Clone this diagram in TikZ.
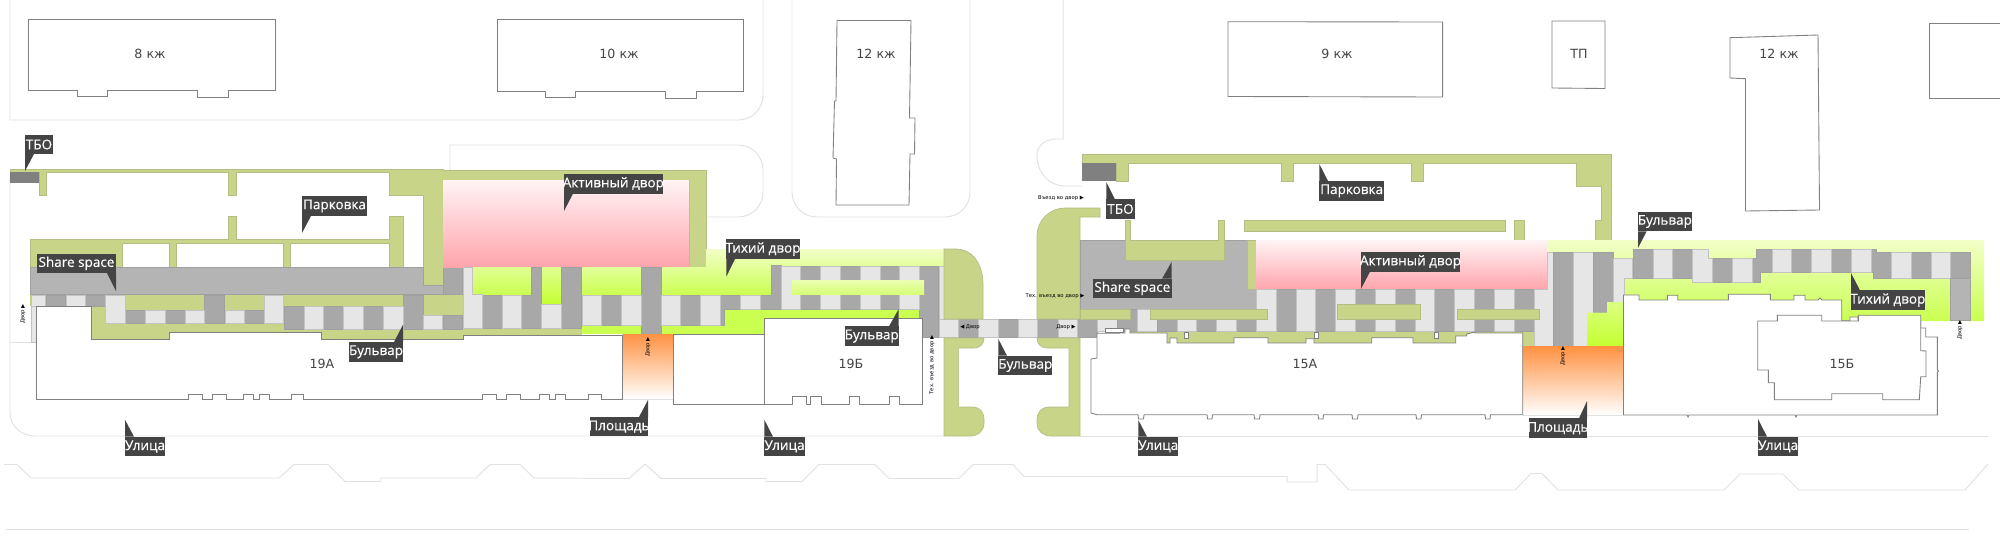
\documentclass[tikz,border=0pt]{standalone}
\usepackage{fontspec}
\setmainfont{DejaVu Sans}
\newfontfamily\labfont{Open Sans}[FakeBold=0.3]
\usetikzlibrary{calc}
\definecolor{grn}{HTML}{C8D488}
\definecolor{grnedge}{HTML}{B4BE84}
\definecolor{dkc}{HTML}{A8A8A8}
\definecolor{ltc}{HTML}{E6E6E6}
\definecolor{cedge}{HTML}{A0A0A0}
\definecolor{band}{HTML}{B4B4B4}
\definecolor{tagc}{HTML}{444444}
\definecolor{roadc}{HTML}{E2E2E2}
\definecolor{bedge}{HTML}{808080}
\definecolor{limeA}{HTML}{F2FFC8}
\definecolor{limeB}{HTML}{CAFF50}
\definecolor{limeC}{HTML}{C4FF30}
\definecolor{pinkB}{HTML}{FFA4AC}
\definecolor{pinkA}{HTML}{FFF4F5}
\definecolor{orA}{HTML}{FF9242}
\tikzset{
  greenzone/.style={fill=grn,draw=grnedge,line width=.4pt},
  darkcell/.style={fill=dkc,draw=cedge,line width=.3pt},
  lightcell/.style={fill=ltc,draw=ltc!85!black,line width=.3pt},
  bandzone/.style={fill=band,draw=cedge,line width=.3pt},
  bldg/.style={fill=white,draw=bedge,line width=.5pt},
  road/.style={draw=roadc,line width=.55pt},
  tagfill/.style={fill=tagc},
  bigname/.style={text=tagc,font=\fontsize{7.2}{9}\selectfont,inner sep=0pt},
  taglabel/.style={text=white,font=\labfont\fontsize{7.7}{9}\selectfont,inner sep=0pt},
  tiny/.style={text=black,font=\fontsize{3}{4}\selectfont,inner sep=0pt},
}
\newcommand\calloutbox[7]{%
  \fill[tagfill] (#2,#3) rectangle (#4,#5);
  \fill[tagfill] #6 -- cycle;
  \node[taglabel] (#1) at ($(#2,#3)!.5!(#4,#5)$) {#7};
}
\begin{document}
\begin{tikzpicture}[x=0.02cm,y=-0.02cm]
\useasboundingbox (0,0) rectangle (2000,541);
\fill[white] (0,0) rectangle (2000,541);

% ---- road lines
\draw[road] (10,0) -- (10,120) -- (738,120) .. controls (752,120) and (763,109) .. (763,95) -- (763,0);
\draw[road] (450,170) -- (450,145) -- (738,145) .. controls (752,145) and (763,156) .. (763,170) -- (763,192) .. controls (763,206) and (752,217) .. (738,217) -- (706,217);
\draw[road] (792,0) -- (792,192) .. controls (792,206) and (803,217) .. (817,217) -- (945,217) .. controls (959,217) and (970,206) .. (970,192) -- (970,0);
\draw[road] (1063,0) -- (1063,139) -- (1056,139) .. controls (1044,139) and (1037,147) .. (1037,155) .. controls (1037,172) and (1048,186) .. (1066,186) -- (1082,186);
\draw[road] (10,172) -- (10,412) .. controls (10,426) and (21,436) .. (35,436) -- (944,436);
\draw[road] (10,342.5) -- (37,342.5);
\draw[road] (1080,436) -- (1988,436);
\draw[road] (4,464.5) -- (17,464.5) -- (31,478) -- (279,478) -- (294,464.5) -- (328,464.5) -- (345,481.5) -- (381,481.5) -- (381,478) -- (476,478) -- (490,464.5) -- (520,464.5) -- (534,478) -- (629,478.5) -- (645,464) -- (661,478.5) -- (766,478.5) -- (766,481.5) -- (802,481.5) -- (819,464.5) -- (875,464.5) -- (889,478.5) -- (959,478.5) -- (973,464.5) -- (1013,464.5) -- (1024,476.5) -- (1287,476.5) -- (1287,482) -- (1317,482) -- (1317,464.5) -- (1325,464.5) -- (1349,490) -- (1515,490) -- (1531,473.5) -- (1542,473.5) -- (1558,490) -- (1724,490) -- (1740,474) -- (1783,474) -- (1799,490) -- (1965,490) -- (1988,464);
\draw[road] (6,529) -- (1969,529);

% ---- left block: green
\draw[greenzone] (10,169) -- (443,169) -- (443,170) -- (706,170) -- (706,267) -- (689,267) -- (689,180) -- (443,180) -- (443,285) -- (423,285) -- (423,195) -- (389,195) -- (389,172) -- (236,172) -- (236,195) -- (228,195) -- (228,172) -- (46,172) -- (46,195) -- (39,195) -- (39,172) -- (10,172) -- cycle;
\draw[greenzone] (30,239) -- (228,239) -- (228,216) -- (236,216) -- (236,239) -- (389,239) -- (389,216) -- (403,216) -- (403,267) -- (389,267) -- (389,243.5) -- (290,243.5) -- (290,267) -- (283,267) -- (283,243.5) -- (176,243.5) -- (176,267) -- (169,267) -- (169,243.5) -- (122,243.5) -- (122,267) -- (30,267) -- cycle;
\fill[fill=grn] (91,294) rectangle (582,339);
\fill[fill=grn] (30,294) rectangle (91,306);
% TBO left
\fill[fill=bedge] (10,172) rectangle (39,183);
% share space band
\draw[bandzone] (30,267) -- (423,267) -- (423,285) -- (443,285) -- (443,294) -- (30,294) -- cycle;
\draw[darkcell] (443,267) rectangle (462,294);
% active court
\shade[top color=pinkA,bottom color=pinkB] (443,180) rectangle (689,267);

% ---- lime left
\shade[top color=limeA,bottom color=limeB] (582,267) -- (706,267) -- (706,249) -- (944,249) -- (944,295) -- (582,295) -- cycle;
\fill[limeB] (582,295) rectangle (944,334);
\shade[top color=limeA!55!limeB,bottom color=limeB] (472.7,267) rectangle (531,295);
\shade[top color=limeA!55!limeB,bottom color=limeC] (541.7,267) rectangle (561,304);

% ---- cells left
\foreach \a/\b/\c/\d in {46/295/65.5/306, 85/295/105/306, 125/310/145/323, 165/310/185/323, 204/295/224.5/323, 244/310/264/323, 284/306/304/329, 323/306/343/329, 363/306/383/329, 403/295/423/329, 443/315/462/329, 482/295/502/328, 561/267/581.7/328, 601/295/621/325, 641/267/661/334, 680/295/700/325, 800/266/820/309, 840/266/860/309, 880/266/899/309}
  \draw[darkcell] (\a,\b) rectangle (\c,\d);
\draw[darkcell] (720,295) -- (740,295) -- (740,309) -- (724,309) -- (724,325) -- (720,325) -- cycle;
\draw[darkcell] (771.5,265.5) -- (781,265.5) -- (781,309) -- (760,309) -- (760,295) -- (771.5,295) -- cycle;
\draw[darkcell] (531,267) -- (541.7,267) -- (541.7,328) -- (521.7,328) -- (521.7,295) -- (531,295) -- cycle;
\draw[darkcell] (919,266) rectangle (938.7,337);
\foreach \a/\b/\c/\d in {31/295/45.5/306, 66/295/85/306, 105/295/125/323, 145/310/165/323, 185/310/204/323, 225/310/244/323, 264/295/283.5/323, 304/306/323/329, 343/306/363/329, 383/306/403/329, 423/315/442.5/329, 502/295/521.7/328, 541.7/304/561/328, 582/295/601/325, 621/295/641/325, 661/295/680/325, 700/295/720/325, 740/295/760/309, 781/266/800/309, 820/266/840/309, 860/266/880/309, 899/266/919/309, 939/266/944/319}
  \draw[lightcell] (\a,\b) rectangle (\c,\d);
\draw[lightcell] (31,306) rectangle (36.6,342);
\draw[lightcell] (463,267) -- (472.7,267) -- (472.7,294) -- (482,294) -- (482,328) -- (463,328) -- cycle;
% lime bar
\shade[top color=limeA!80!limeB,bottom color=limeA!30!limeB] (792,280) rectangle (924,294.5);

% ---- crossing and green pockets
\foreach \a/\c in {958/978,998/1018,1037/1058,1077/1097}
  \draw[darkcell] (\a,319) rectangle (\c,337);
\foreach \a/\c in {939/958,978/998,1018/1037,1058/1077}
  \draw[lightcell] (\a,319) rectangle (\c,337);
\draw[greenzone] (944,249) -- (956,249) .. controls (971,249) and (983,262) .. (983,285) -- (983,319) -- (944,319) -- cycle;
\draw[greenzone] (944,338) -- (984,338) .. controls (984,344) and (980,348) .. (974,348) -- (958.6,348) -- (958.6,407) -- (972,407) .. controls (980,407) and (984,412) .. (984,420) -- (984,423) .. controls (984,431) and (978,436) .. (970,436) -- (944,436) -- cycle;
\draw[greenzone] (1080,338) -- (1037,338) .. controls (1037,344) and (1041,348) .. (1047,348) -- (1069,348) -- (1069,407) -- (1049,407) .. controls (1042,407) and (1037,412) .. (1037,420) -- (1037,423) .. controls (1037,431) and (1043,436) .. (1051,436) -- (1080,436) -- cycle;
\draw[greenzone] (1037,319) -- (1037,236) .. controls (1037,220) and (1050,208) .. (1065,208) -- (1100,208) -- (1100,217) -- (1080,217) -- (1080,319) -- cycle;

% ---- right block: green, grey, pink
\draw[greenzone] (1082,154) -- (1611,154) -- (1611,240) -- (1595,240) -- (1595,220) -- (1601,220) -- (1601,186) -- (1576,186) -- (1576,163) -- (1423,163) -- (1423,181) -- (1411,181) -- (1411,163) -- (1293,163) -- (1293,181) -- (1281,181) -- (1281,163) -- (1128,163) -- (1128,181) -- (1116,181) -- (1116,163) -- (1082,163) -- cycle;
\fill[fill=bedge] (1082,163) rectangle (1116,181);
\draw[bandzone] (1080,240) rectangle (1256,309.3);
\draw[greenzone] (1125,220.7) -- (1130.7,220.7) -- (1130.7,240) -- (1218.3,240) -- (1218.3,220.7) -- (1224,220.7) -- (1224,260) -- (1125,260) -- cycle;
\draw[greenzone] (1247,240) rectangle (1256,289.7);
\draw[greenzone] (1244,220.7) rectangle (1505,231.7);
\draw[greenzone] (1514.3,220.7) rectangle (1524.7,240);
\shade[top color=pinkA,bottom color=pinkB] (1256,240) rectangle (1547,289.7);

% ---- lime right
\shade[top color=limeA,bottom color=limeB] (1547,240) -- (1984,240) -- (1984,321) -- (1613,321) -- (1613,252) -- (1547,252) -- cycle;
\fill[grn] (1130,331) rectangle (1539,346.7);

% ---- cells right
\draw[lightcell] (1097,319) rectangle (1117,331);
\draw[darkcell] (1117,319) -- (1130.6,319) -- (1130.6,309.3) -- (1137,309.3) -- (1137,331) -- (1117,331) -- cycle;
\draw[lightcell] (1137,309.3) -- (1150,309.3) -- (1150,319) -- (1157,319) -- (1157,331) -- (1137,331) -- cycle;
\foreach \a/\c in {1157/1177,1196/1216,1236/1256}
  \draw[darkcell] (\a,319) rectangle (\c,331);
\foreach \a/\c in {1177/1196,1216/1236}
  \draw[lightcell] (\a,319) rectangle (\c,331);
\foreach \a/\c in {1276/1296,1315/1335,1355/1375,1395/1415,1434/1454,1474/1494,1514/1534}
  \draw[darkcell] (\a,289.7) rectangle (\c,331);
\foreach \a/\c in {1256/1276,1296/1315,1335/1355,1375/1395,1415/1434,1454/1474,1494/1514}
  \draw[lightcell] (\a,289.7) rectangle (\c,331);
\draw[lightcell] (1534,289.7) -- (1547,289.7) -- (1547,252) -- (1553,252) -- (1553,346.7) -- (1534,346.7) -- cycle;
\draw[darkcell] (1553,252) rectangle (1573,346.7);
\draw[lightcell] (1573,252) rectangle (1593,346.7);
\draw[darkcell] (1593,252) rectangle (1613,312);
\draw[lightcell] (1613,258) -- (1632,258) -- (1632,278) -- (1624,278) -- (1624,302) -- (1613,302) -- cycle;
\shade[top color=limeA!40!limeB,bottom color=limeC] (1587.7,312.7) -- (1607,312.7) -- (1607,302) -- (1624,302) -- (1624,346.7) -- (1587.7,346.7) -- cycle;
\foreach \a/\b/\c/\d in {1633/249.3/1653/278, 1672.7/249.3/1692/278, 1712/258/1732/282, 1791.7/249.3/1811.7/272, 1831.7/249.3/1851/272, 1911/252/1931/278, 1950/252/1970/278}
  \draw[darkcell] (\a,\b) rectangle (\c,\d);
\draw[darkcell] (1752,258) -- (1756.7,258) -- (1756.7,249.3) -- (1772,249.3) -- (1772,272) -- (1760,272) -- (1760,282) -- (1752,282) -- cycle;
\draw[darkcell] (1871,249.3) -- (1876.5,249.3) -- (1876.5,252) -- (1891,252) -- (1891,278) -- (1873,278) -- (1873,272) -- (1871,272) -- cycle;
\foreach \a/\b/\c/\d in {1653/249.3/1672.7/278, 1732/258/1752/282, 1772/249.3/1791.7/272, 1811.7/249.3/1831.7/272, 1851/249.3/1871/272, 1891/252/1911/278, 1931/252/1950/278}
  \draw[lightcell] (\a,\b) rectangle (\c,\d);
\draw[lightcell] (1692,249.3) -- (1708.7,249.3) -- (1708.7,258) -- (1712,258) -- (1712,282) -- (1692,282) -- cycle;
\draw[bandzone] (1950,278) rectangle (1970,320.7);
% green bars over cells
\draw[greenzone] (1080,309.3) rectangle (1130.6,319.3);
\draw[greenzone] (1150,309.3) rectangle (1267,319.3);
\draw[greenzone] (1337,304) rectangle (1420,319);
\draw[greenzone] (1457,309) rectangle (1539,319);

% ---- orange squares
\shade[top color=orA,bottom color=white] (622.5,334) rectangle (673,399);
\shade[top color=orA,bottom color=white] (1522.7,346.7) rectangle (1623.3,415);
\draw[road] (622.5,399) -- (673,399);
\draw[road] (1522.7,415) -- (1623.3,415);

% ---- buildings
\draw[bldg] (28,19) -- (275,19) -- (275,90) -- (228,90) -- (228,97) -- (197,97) -- (197,90) -- (107,90) -- (107,96) -- (77,96) -- (77,90) -- (28,90) -- cycle;
\draw[bldg] (497,19) -- (743,19) -- (743,91) -- (696,91) -- (696,98) -- (665,98) -- (665,91) -- (575,91) -- (575,97) -- (545,97) -- (545,91) -- (497,91) -- cycle;
\draw[bldg] (837,20.5) -- (911,20.5) -- (909.5,118) -- (915,118) -- (914.5,154) -- (910,154) -- (909,205) -- (836,205) -- (836.5,159) -- (833,158) -- (834.5,101) -- (836,101) -- cycle;
\draw[bldg] (1228,21.7) -- (1442.6,22) -- (1442.6,97) -- (1228,96.5) -- cycle;
\draw[bldg] (1552,21) -- (1605,21) -- (1605,88.5) -- (1552,88) -- cycle;
\draw[bldg] (1730,37.7) -- (1818,35) -- (1819.5,210) -- (1745.5,211) -- (1745.5,78.7) -- (1730,78) -- cycle;
\draw[bldg] (2000,23) -- (1929,23) -- (1929,98.7) -- (2000,98.7);

\draw[bldg] (36.6,306) -- (91,306) -- (91,339) -- (169,339) -- (169,332) -- (321,332) -- (321,339) -- (463,339) -- (463,335) -- (622.5,335) -- (622.5,399) -- (601,399) -- (601,394.5) -- (588,394.5) -- (588,399) -- (565,399) -- (565,394.5) -- (555,394.5) -- (555,399) -- (549,399) -- (549,394.5) -- (539,394.5) -- (539,399) -- (520,399) -- (520,394.5) -- (506,394.5) -- (506,399) -- (496,399) -- (496,394.5) -- (482,394.5) -- (482,399) -- (303,399) -- (303,394) -- (291,394) -- (291,399) -- (269,399) -- (269,394) -- (259,394) -- (259,399) -- (253,399) -- (253,394) -- (243,394) -- (243,399) -- (226,399) -- (226,394) -- (212,394) -- (212,399) -- (202,399) -- (202,394.5) -- (188,394.5) -- (188,399) -- (36.6,399) -- cycle;
\draw[bldg] (673,334) -- (764,334) -- (764,318) -- (922,318) -- (922,404) -- (899,404) -- (899,396) -- (889,396) -- (889,404) -- (859,404) -- (859,396) -- (849,396) -- (849,404) -- (821,404) -- (821,396) -- (810,396) -- (810,404) -- (806,404) -- (806,396) -- (792,396) -- (792,404) -- (673,404) -- cycle;
\draw[bedge,line width=.5pt] (764,318) -- (764,404);

\draw[bldg] (1097,333.3) -- (1097,358) -- (1091,359) -- (1091,413) -- (1097,414.7) -- (1138,414.7) -- (1138.5,419) -- (1143.5,419) -- (1144,414.7) -- (1207,414.7) -- (1207.5,419) -- (1212,419) -- (1212.5,414.7) -- (1254,414.7) -- (1254.5,419) -- (1259.5,419) -- (1260,414.7) -- (1318,414.7) -- (1318.5,419) -- (1323,419) -- (1323.5,414.7) -- (1352,414.7) -- (1352.5,419) -- (1357.5,419) -- (1358,414.7) -- (1416,414.7) -- (1416.5,419) -- (1421,419) -- (1421.5,414.7) -- (1485,414.7) -- (1485.5,419) -- (1490,419) -- (1490.5,414.7) -- (1522.7,414.7) -- (1522.7,333) -- (1475,333) -- (1475,332) -- (1466.7,334) -- (1466.7,336) -- (1455.7,336) -- (1455.7,343) -- (1413,343) -- (1413,337.7) -- (1371.7,337.7) -- (1371.7,343) -- (1314,343) -- (1314,338.7) -- (1306,338.7) -- (1306,343) -- (1268,343) -- (1268,337.7) -- (1234,337.7) -- (1234,343) -- (1177,343) -- (1177,338) -- (1170,338) -- (1170,343) -- (1167,343) -- (1167,333) -- (1130,333) -- (1130,329) -- (1125,329) -- (1125,333) -- cycle;
\draw[bldg,line width=.4pt] (1105.3,328.7) rectangle (1123.3,332.7);
\draw[bldg,line width=.4pt] (1184,332.7) rectangle (1188,338.3);
\draw[bldg,line width=.4pt] (1314.5,332.7) rectangle (1318,338.3);
\draw[bldg,line width=.4pt] (1434.5,332.7) rectangle (1438,338.3);

\draw[bldg] (1623.5,295) -- (1639,295) -- (1639,300) -- (1667.3,300) -- (1667.3,295.3) -- (1677.7,295.3) -- (1677.7,300) -- (1728.3,300) -- (1728.3,294.3) -- (1770.3,294.3) -- (1770.3,300) -- (1794,300) -- (1794,295.3) -- (1805,295.3) -- (1805,300) -- (1818,300) -- (1820,298) -- (1822,300) -- (1841.7,300) -- (1841.7,320.7) -- (1850,320.7) -- (1850,317) -- (1858,317) -- (1858,320.7) -- (1920.7,320.7) -- (1920.7,328) -- (1925.7,328) -- (1925.7,337) -- (1937.3,337) -- (1937.3,370) -- (1938.5,371) -- (1937.3,372) -- (1937.3,415) -- (1797,415) -- (1796,417) -- (1795,415) -- (1689,415) -- (1688,417) -- (1687,415) -- (1623.5,415) -- cycle;
\draw[bldg] (1757.7,321) -- (1777.3,321) -- (1777.3,315.3) -- (1821.7,315.3) -- (1821.7,321) -- (1858.3,321) -- (1858.3,315.3) -- (1920.7,315.3) -- (1920.7,350.7) -- (1926,351) -- (1926,376.7) -- (1920.7,376.7) -- (1919.3,399.7) -- (1882.7,399.7) -- (1882.7,393.7) -- (1831.7,393.7) -- (1831.7,399.7) -- (1774.3,399.7) -- (1774.3,382.7) -- (1768.3,382.7) -- (1768.3,370) -- (1757.7,370) -- cycle;

% ---- building names
\node[bigname] (n8) at (150,54) {8 кж};
\node[bigname] (n10) at (619,54) {10 кж};
\node[bigname] (n12a) at (876,54) {12 кж};
\node[bigname] (n9) at (1337,54) {9 кж};
\node[bigname] (ntp) at (1579,54) {ТП};
\node[bigname] (n12b) at (1779,54) {12 кж};
\node[bigname] (n19a) at (322,364) {19А};
\node[bigname] (n19b) at (851,364) {19Б};
\node[bigname] (n15a) at (1305,364) {15А};
\node[bigname] (n15b) at (1842,364) {15Б};

% ---- small direction notes
\node[tiny,rotate=90] (d1) at (23,314) {Двор ▶};
\node[tiny,rotate=90] (d2) at (648,347) {Двор ▶};
\node[tiny,rotate=90] (d3) at (1563,356) {Двор ▶};
\node[tiny,rotate=90] (d4) at (1960,330) {Двор ▶};
\node[tiny,rotate=90] (d5) at (932,365) {Тех. въезд во двор ▶};
\node[tiny] (d6) at (1061,198) {Въезд во двор ▶};
\node[tiny] (d7) at (1055,296) {Тех. въезд во двор ▶};
\node[tiny] (d8) at (970,327) {◀ Двор};
\node[tiny] (d9) at (1066,327) {Двор ▶};

% ---- callouts
\calloutbox{t1}{25}{135}{53}{154}{(25,154) -- (25,171) -- (34,154)}{ТБО}
\calloutbox{t2}{302}{196}{367}{216}{(302,216) -- (302,233) -- (311,216)}{Парковка}
\calloutbox{t3}{37}{253.7}{116}{273}{(107,273) -- (116,291) -- (116,273)}{Share space}
\calloutbox{t4}{349}{342}{403}{361.7}{(394,342) -- (403,324.7) -- (403,342)}{Бульвар}
\calloutbox{t5}{125}{436.7}{165}{456.3}{(125,436.7) -- (125,419.7) -- (134,436.7)}{Улица}
\calloutbox{t6}{564}{174}{662.7}{193.7}{(564,193.7) -- (564,211) -- (573,193.7)}{Активный двор}
\calloutbox{t7}{726.3}{239.3}{799.7}{259}{(726.3,259) -- (726.3,276.7) -- (735,259)}{Тихий двор}
\calloutbox{t8}{844.7}{326.3}{898.7}{346}{(889,326.3) -- (898.7,309) -- (898.7,326.3)}{Бульвар}
\calloutbox{t9}{590}{417}{648}{436.3}{(639,417) -- (648,400) -- (648,417)}{Площадь}
\calloutbox{t10}{764.3}{436.7}{804.7}{456}{(764.3,436.7) -- (764.3,419.7) -- (773,436.7)}{Улица}
\calloutbox{t11}{998.3}{355.7}{1052.3}{375.3}{(998.3,355.7) -- (998.3,339) -- (1007,355.7)}{Бульвар}
\calloutbox{t12}{1106.3}{199.3}{1134.7}{218.7}{(1106.3,199.3) -- (1106.3,182) -- (1115,199.3)}{ТБО}
\calloutbox{t13}{1093}{278.7}{1171.7}{298}{(1162,278.7) -- (1171.7,261.7) -- (1171.7,278.7)}{Share space}
\calloutbox{t14}{1319.3}{181}{1384}{200.7}{(1319.3,181) -- (1319.3,164) -- (1328,181)}{Парковка}
\calloutbox{t15}{1361}{252}{1460}{271.7}{(1361,271.7) -- (1361,289) -- (1370,271.7)}{Активный двор}
\calloutbox{t16}{1638}{211.7}{1691.7}{231.3}{(1638,231.3) -- (1638,248) -- (1646.7,231.3)}{Бульвар}
\calloutbox{t17}{1851}{290.3}{1924.7}{310}{(1851,290.3) -- (1851,273) -- (1860,290.3)}{Тихий двор}
\calloutbox{t18}{1138.3}{436.7}{1178}{456}{(1138.3,436.7) -- (1138.3,420) -- (1147,436.7)}{Улица}
\calloutbox{t19}{1528.7}{418.3}{1587}{438}{(1579,418.3) -- (1587,401) -- (1587,418.3)}{Площадь}
\calloutbox{t20}{1758}{436.7}{1798}{456}{(1758,436.7) -- (1758,419) -- (1767,436.7)}{Улица}
\end{tikzpicture}
\end{document}
